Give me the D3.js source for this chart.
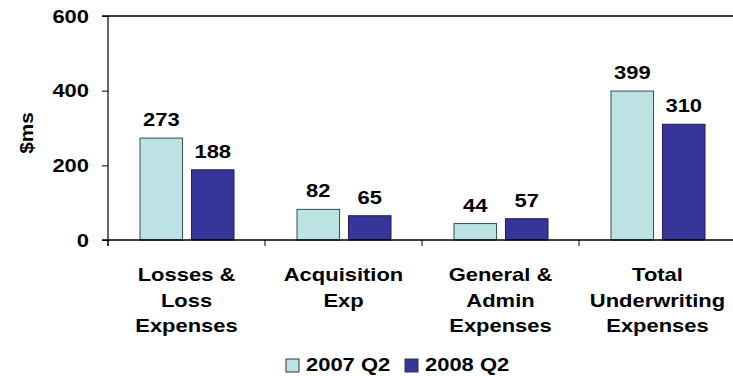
<!DOCTYPE html>
<html>
<head>
<meta charset="utf-8">
<script src="https://cdn.jsdelivr.net/npm/d3@7"></script>
<style>
  html, body { margin: 0; padding: 0; background: #fff; }
  svg { display: block; }
  text { font-family: "Liberation Sans", Arial, sans-serif; font-weight: bold; fill: #000; }
</style>
</head>
<body>
<svg id="chart" width="733" height="376"></svg>
<script>
const categories = [
  ["Losses &", "Loss", "Expenses"],
  ["Acquisition", "Exp"],
  ["General &", "Admin", "Expenses"],
  ["Total", "Underwriting", "Expenses"]
];
const seriesNames = ["2007 Q2", "2008 Q2"];
const values2007 = [273, 82, 44, 399];
const values2008 = [188, 65, 57, 310];
const yTicks = [0, 200, 400, 600];
const colors = ["#BCE2E4", "#35359A"];

(function () {
const svg = d3.select("#chart");
const SX = 1.22;
const plotLeft = 108, plotTop = 16, plotBottom = 240;
const catKeys = categories.map((c, i) => i);

const x0 = d3.scaleBand().domain(catKeys).range([plotLeft, plotLeft + 4 * 157]).paddingInner(0).paddingOuter(0);
const x1 = d3.scaleBand().domain(seriesNames).range([32, 126]).paddingInner(0.173).paddingOuter(0);
const y = d3.scaleLinear().domain([0, 600]).range([plotBottom, plotTop]);

const seriesValues = [values2007, values2008];

function stretchedText(g, x, yy, str, anchor, size) {
  const t = g.append("g").attr("transform", `translate(${x},${yy}) scale(${SX},1)`);
  t.append("text").attr("text-anchor", anchor).attr("font-size", size).text(str);
  return t;
}

// top border
svg.append("line").attr("x1", plotLeft - 6).attr("x2", 733).attr("y1", y(600)).attr("y2", y(600))
  .attr("stroke", "#000").attr("stroke-width", 1.5);

// bars
catKeys.forEach(ci => {
  seriesNames.forEach((s, si) => {
    const v = seriesValues[si][ci];
    const bx = x0(ci) + x1(s);
    svg.append("rect")
      .attr("x", bx).attr("y", y(v))
      .attr("width", x1.bandwidth()).attr("height", y(0) - y(v))
      .attr("fill", colors[si]).attr("stroke", si === 0 ? "#3a4a4a" : "#1f1f55").attr("stroke-width", 1);
    stretchedText(svg, bx + x1.bandwidth() / 2, y(v) - 12, String(v), "middle", 18);
  });
});

// y axis
const yAxis = d3.axisLeft(y).tickValues(yTicks).tickSize(6).tickFormat("");
const ga = svg.append("g").attr("transform", `translate(${plotLeft},0)`).call(yAxis);
ga.select(".domain").remove();
ga.selectAll("line").attr("stroke", "#000").attr("stroke-width", 1);
svg.append("line").attr("x1", plotLeft).attr("x2", plotLeft).attr("y1", y(600)).attr("y2", y(0) + 6)
  .attr("stroke", "#000").attr("stroke-width", 1.2);
yTicks.forEach(t => stretchedText(svg, 89, y(t) + 6.5, String(t), "end", 18));

// x axis
svg.append("line").attr("x1", plotLeft - 6).attr("x2", 733).attr("y1", y(0)).attr("y2", y(0))
  .attr("stroke", "#000").attr("stroke-width", 1.5);
catKeys.forEach(ci => {
  const bx = x0(ci);
  svg.append("line").attr("x1", bx).attr("x2", bx).attr("y1", y(0)).attr("y2", y(0) + 6)
    .attr("stroke", "#000").attr("stroke-width", 1);
  const cx = bx + x0.bandwidth() / 2;
  categories[ci].forEach((line, li) => {
    stretchedText(svg, cx, 281 + li * 25.5, line, "middle", 18);
  });
});

// y title
svg.append("g").attr("transform", "translate(33,133) rotate(-90) scale(1.3,1.2)")
  .append("text").attr("text-anchor", "middle").attr("font-size", 16).text("$ms");

// legend
const legX = [286, 405];
seriesNames.forEach((s, si) => {
  svg.append("rect").attr("x", legX[si]).attr("y", 359).attr("width", 13).attr("height", 13)
    .attr("fill", colors[si]).attr("stroke", "#333").attr("stroke-width", 1);
  stretchedText(svg, legX[si] + 20, 371, s, "start", 18);
});
})();
</script>
</body>
</html>
